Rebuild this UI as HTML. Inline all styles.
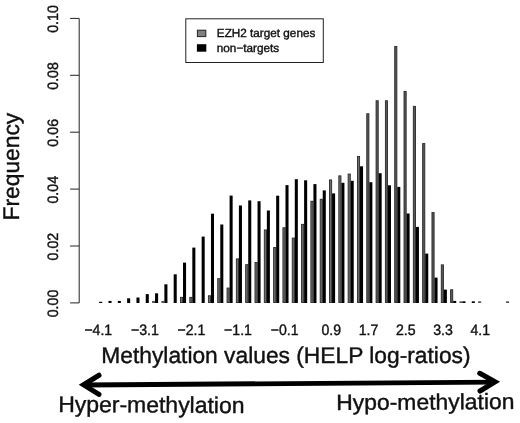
<!DOCTYPE html>
<html><head><meta charset="utf-8"><title>Histogram</title>
<style>
html,body{margin:0;padding:0;background:#fff;}
svg{display:block}
text{font-family:"Liberation Sans",sans-serif;fill:#111;stroke:#111;stroke-width:0.4px;text-rendering:geometricPrecision;}
</style></head><body>
<svg width="520" height="423" viewBox="0 0 520 423">
<rect width="520" height="423" fill="#fff"/>
<g shape-rendering="auto">
<rect x="152.06" y="300.90" width="3.05" height="2.10" fill="#555"/>
<rect x="161.38" y="300.90" width="3.05" height="2.10" fill="#555"/>
<rect x="180.46" y="297.35" width="2.15" height="5.20" fill="#6c6c6c" stroke="#2a2a2a" stroke-width="0.9"/>
<rect x="189.77" y="297.35" width="2.15" height="5.20" fill="#6c6c6c" stroke="#2a2a2a" stroke-width="0.9"/>
<rect x="208.41" y="295.75" width="2.15" height="6.80" fill="#6c6c6c" stroke="#2a2a2a" stroke-width="0.9"/>
<rect x="217.72" y="278.65" width="2.15" height="23.90" fill="#6c6c6c" stroke="#2a2a2a" stroke-width="0.9"/>
<rect x="227.03" y="288.05" width="2.15" height="14.50" fill="#6c6c6c" stroke="#2a2a2a" stroke-width="0.9"/>
<rect x="236.35" y="258.85" width="2.15" height="43.70" fill="#6c6c6c" stroke="#2a2a2a" stroke-width="0.9"/>
<rect x="245.66" y="264.65" width="2.15" height="37.90" fill="#6c6c6c" stroke="#2a2a2a" stroke-width="0.9"/>
<rect x="254.98" y="262.55" width="2.15" height="40.00" fill="#6c6c6c" stroke="#2a2a2a" stroke-width="0.9"/>
<rect x="264.30" y="229.95" width="2.15" height="72.60" fill="#6c6c6c" stroke="#2a2a2a" stroke-width="0.9"/>
<rect x="273.61" y="247.55" width="2.15" height="55.00" fill="#6c6c6c" stroke="#2a2a2a" stroke-width="0.9"/>
<rect x="282.93" y="227.75" width="2.15" height="74.80" fill="#6c6c6c" stroke="#2a2a2a" stroke-width="0.9"/>
<rect x="292.24" y="238.05" width="2.15" height="64.50" fill="#6c6c6c" stroke="#2a2a2a" stroke-width="0.9"/>
<rect x="301.56" y="224.35" width="2.15" height="78.20" fill="#6c6c6c" stroke="#2a2a2a" stroke-width="0.9"/>
<rect x="310.87" y="201.25" width="2.15" height="101.30" fill="#6c6c6c" stroke="#2a2a2a" stroke-width="0.9"/>
<rect x="320.19" y="199.25" width="2.15" height="103.30" fill="#6c6c6c" stroke="#2a2a2a" stroke-width="0.9"/>
<rect x="329.50" y="179.95" width="2.15" height="122.60" fill="#6c6c6c" stroke="#2a2a2a" stroke-width="0.9"/>
<rect x="338.81" y="175.85" width="2.15" height="126.70" fill="#6c6c6c" stroke="#2a2a2a" stroke-width="0.9"/>
<rect x="348.13" y="174.05" width="2.15" height="128.50" fill="#6c6c6c" stroke="#2a2a2a" stroke-width="0.9"/>
<rect x="357.44" y="156.45" width="2.15" height="146.10" fill="#6c6c6c" stroke="#2a2a2a" stroke-width="0.9"/>
<rect x="366.76" y="113.75" width="2.15" height="188.80" fill="#585858" stroke="#2a2a2a" stroke-width="0.9"/>
<rect x="376.07" y="100.75" width="2.15" height="201.80" fill="#585858" stroke="#2a2a2a" stroke-width="0.9"/>
<rect x="385.39" y="100.75" width="2.15" height="201.80" fill="#585858" stroke="#2a2a2a" stroke-width="0.9"/>
<rect x="394.70" y="46.45" width="2.15" height="256.10" fill="#585858" stroke="#2a2a2a" stroke-width="0.9"/>
<rect x="404.02" y="91.35" width="2.15" height="211.20" fill="#585858" stroke="#2a2a2a" stroke-width="0.9"/>
<rect x="413.33" y="106.35" width="2.15" height="196.20" fill="#585858" stroke="#2a2a2a" stroke-width="0.9"/>
<rect x="422.65" y="143.55" width="2.15" height="159.00" fill="#585858" stroke="#2a2a2a" stroke-width="0.9"/>
<rect x="431.96" y="212.55" width="2.15" height="90.00" fill="#585858" stroke="#2a2a2a" stroke-width="0.9"/>
<rect x="441.28" y="264.85" width="2.15" height="37.70" fill="#585858" stroke="#2a2a2a" stroke-width="0.9"/>
<rect x="450.59" y="289.75" width="2.15" height="12.80" fill="#585858" stroke="#2a2a2a" stroke-width="0.9"/>
<rect x="459.46" y="301.30" width="3.05" height="1.70" fill="#555"/>
<rect x="478.09" y="301.30" width="3.05" height="1.70" fill="#555"/>
<rect x="506.03" y="301.30" width="3.05" height="1.70" fill="#555"/>
<rect x="99.17" y="301.80" width="3.05" height="1.20" fill="#000"/>
<rect x="108.49" y="300.90" width="3.05" height="2.10" fill="#000"/>
<rect x="117.80" y="300.90" width="3.05" height="2.10" fill="#000"/>
<rect x="127.12" y="298.30" width="3.05" height="4.70" fill="#000"/>
<rect x="136.44" y="297.50" width="3.05" height="5.50" fill="#000"/>
<rect x="145.75" y="294.10" width="3.05" height="8.90" fill="#000"/>
<rect x="155.06" y="293.30" width="3.05" height="9.70" fill="#000"/>
<rect x="164.38" y="284.30" width="3.05" height="18.70" fill="#000"/>
<rect x="173.69" y="274.30" width="3.05" height="28.70" fill="#000"/>
<rect x="183.01" y="262.60" width="3.05" height="40.40" fill="#000"/>
<rect x="192.32" y="247.60" width="3.05" height="55.40" fill="#000"/>
<rect x="201.64" y="236.60" width="3.05" height="66.40" fill="#000"/>
<rect x="210.96" y="213.70" width="3.05" height="89.30" fill="#000"/>
<rect x="220.27" y="224.50" width="3.05" height="78.50" fill="#000"/>
<rect x="229.59" y="195.60" width="3.05" height="107.40" fill="#000"/>
<rect x="238.90" y="205.50" width="3.05" height="97.50" fill="#000"/>
<rect x="248.22" y="200.40" width="3.05" height="102.60" fill="#000"/>
<rect x="257.53" y="201.20" width="3.05" height="101.80" fill="#000"/>
<rect x="266.85" y="210.50" width="3.05" height="92.50" fill="#000"/>
<rect x="276.16" y="195.70" width="3.05" height="107.30" fill="#000"/>
<rect x="285.48" y="185.10" width="3.05" height="117.90" fill="#000"/>
<rect x="294.79" y="179.20" width="3.05" height="123.80" fill="#000"/>
<rect x="304.11" y="180.30" width="3.05" height="122.70" fill="#000"/>
<rect x="313.42" y="184.10" width="3.05" height="118.90" fill="#000"/>
<rect x="322.74" y="190.40" width="3.05" height="112.60" fill="#000"/>
<rect x="332.05" y="193.40" width="3.05" height="109.60" fill="#000"/>
<rect x="341.37" y="182.80" width="3.05" height="120.20" fill="#000"/>
<rect x="350.68" y="180.80" width="3.05" height="122.20" fill="#000"/>
<rect x="360.00" y="166.30" width="3.05" height="136.70" fill="#000"/>
<rect x="369.31" y="182.20" width="3.05" height="120.80" fill="#000"/>
<rect x="378.62" y="173.20" width="3.05" height="129.80" fill="#000"/>
<rect x="387.94" y="185.30" width="3.05" height="117.70" fill="#000"/>
<rect x="397.25" y="186.90" width="3.05" height="116.10" fill="#000"/>
<rect x="406.57" y="213.50" width="3.05" height="89.50" fill="#000"/>
<rect x="415.88" y="226.90" width="3.05" height="76.10" fill="#000"/>
<rect x="425.20" y="253.60" width="3.05" height="49.40" fill="#000"/>
<rect x="434.51" y="277.60" width="3.05" height="25.40" fill="#000"/>
<rect x="443.83" y="289.60" width="3.05" height="13.40" fill="#000"/>
<rect x="453.14" y="300.90" width="3.05" height="2.10" fill="#000"/>
<rect x="462.46" y="301.30" width="3.05" height="1.70" fill="#000"/>
<rect x="471.77" y="301.30" width="3.05" height="1.70" fill="#000"/>
</g>
<path d="M79.2 302.9V18.399999999999977" stroke="#222" stroke-width="1" fill="none"/><path d="M70.1 302.90H79.2" stroke="#222" stroke-width="1" fill="none"/><path d="M70.1 246.00H79.2" stroke="#222" stroke-width="1" fill="none"/><path d="M70.1 189.10H79.2" stroke="#222" stroke-width="1" fill="none"/><path d="M70.1 132.20H79.2" stroke="#222" stroke-width="1" fill="none"/><path d="M70.1 75.30H79.2" stroke="#222" stroke-width="1" fill="none"/><path d="M70.1 18.40H79.2" stroke="#222" stroke-width="1" fill="none"/>
<text transform="translate(57.8 303.50) rotate(-90) scale(0.95 1)" text-anchor="middle" font-size="15">0.00</text><text transform="translate(57.8 246.60) rotate(-90) scale(0.95 1)" text-anchor="middle" font-size="15">0.02</text><text transform="translate(57.8 189.70) rotate(-90) scale(0.95 1)" text-anchor="middle" font-size="15">0.04</text><text transform="translate(57.8 132.80) rotate(-90) scale(0.95 1)" text-anchor="middle" font-size="15">0.06</text><text transform="translate(57.8 75.90) rotate(-90) scale(0.95 1)" text-anchor="middle" font-size="15">0.08</text><text transform="translate(57.8 19.00) rotate(-90) scale(0.95 1)" text-anchor="middle" font-size="15">0.10</text>
<text transform="translate(98.30 335.2) scale(0.94 1)" text-anchor="middle" font-size="15">−4.1</text><text transform="translate(144.88 335.2) scale(0.94 1)" text-anchor="middle" font-size="15">−3.1</text><text transform="translate(191.45 335.2) scale(0.94 1)" text-anchor="middle" font-size="15">−2.1</text><text transform="translate(238.03 335.2) scale(0.94 1)" text-anchor="middle" font-size="15">−1.1</text><text transform="translate(284.60 335.2) scale(0.94 1)" text-anchor="middle" font-size="15">−0.1</text><text transform="translate(331.18 335.2) scale(0.94 1)" text-anchor="middle" font-size="15">0.9</text><text transform="translate(368.44 335.2) scale(0.94 1)" text-anchor="middle" font-size="15">1.7</text><text transform="translate(405.69 335.2) scale(0.94 1)" text-anchor="middle" font-size="15">2.5</text><text transform="translate(442.95 335.2) scale(0.94 1)" text-anchor="middle" font-size="15">3.3</text><text transform="translate(480.21 335.2) scale(0.94 1)" text-anchor="middle" font-size="15">4.1</text>
<text transform="translate(19.2 166.6) rotate(-90) scale(1.005 1)" text-anchor="middle" font-size="22.7" stroke-width="0.5">Frequency</text>
<text transform="translate(101.3 362.6) scale(1.004 1)" font-size="22.7" stroke-width="0.5">Methylation values (HELP log-ratios)</text>
<rect x="185.8" y="18.8" width="137.5" height="43.7" fill="#fff" stroke="#222" stroke-width="1"/>
<rect x="197.4" y="30.2" width="8.4" height="6.4" fill="#808080" stroke="#222" stroke-width="1"/>
<rect x="196.9" y="44.2" width="9.4" height="7.5" fill="#000"/>
<text transform="translate(216.8 37.3) scale(0.995 1)" font-size="11.8">EZH2 target genes</text>
<text transform="translate(216.8 52) scale(0.995 1)" font-size="11.8">non−targets</text>
<path d="M84 385.05L494.5 382.1" stroke="#000" stroke-width="4.9" fill="none"/>
<path d="M99 375.25L83.5 384.8L99 394.4" stroke="#000" stroke-width="5" fill="none" stroke-linecap="round" stroke-linejoin="miter" stroke-miterlimit="10"/>
<path d="M479.75 373.25L495.1 381.9L480 391" stroke="#000" stroke-width="5" fill="none" stroke-linecap="round" stroke-linejoin="miter" stroke-miterlimit="10"/>
<text transform="translate(58.2 411.9) rotate(0.38) scale(1.012 1)" font-size="22.7" stroke-width="0.5">Hyper-methylation</text>
<text transform="translate(336.2 410) rotate(-0.35) scale(1.042 1)" font-size="22" stroke-width="0.5">Hypo-methylation</text>
</svg>
</body></html>
